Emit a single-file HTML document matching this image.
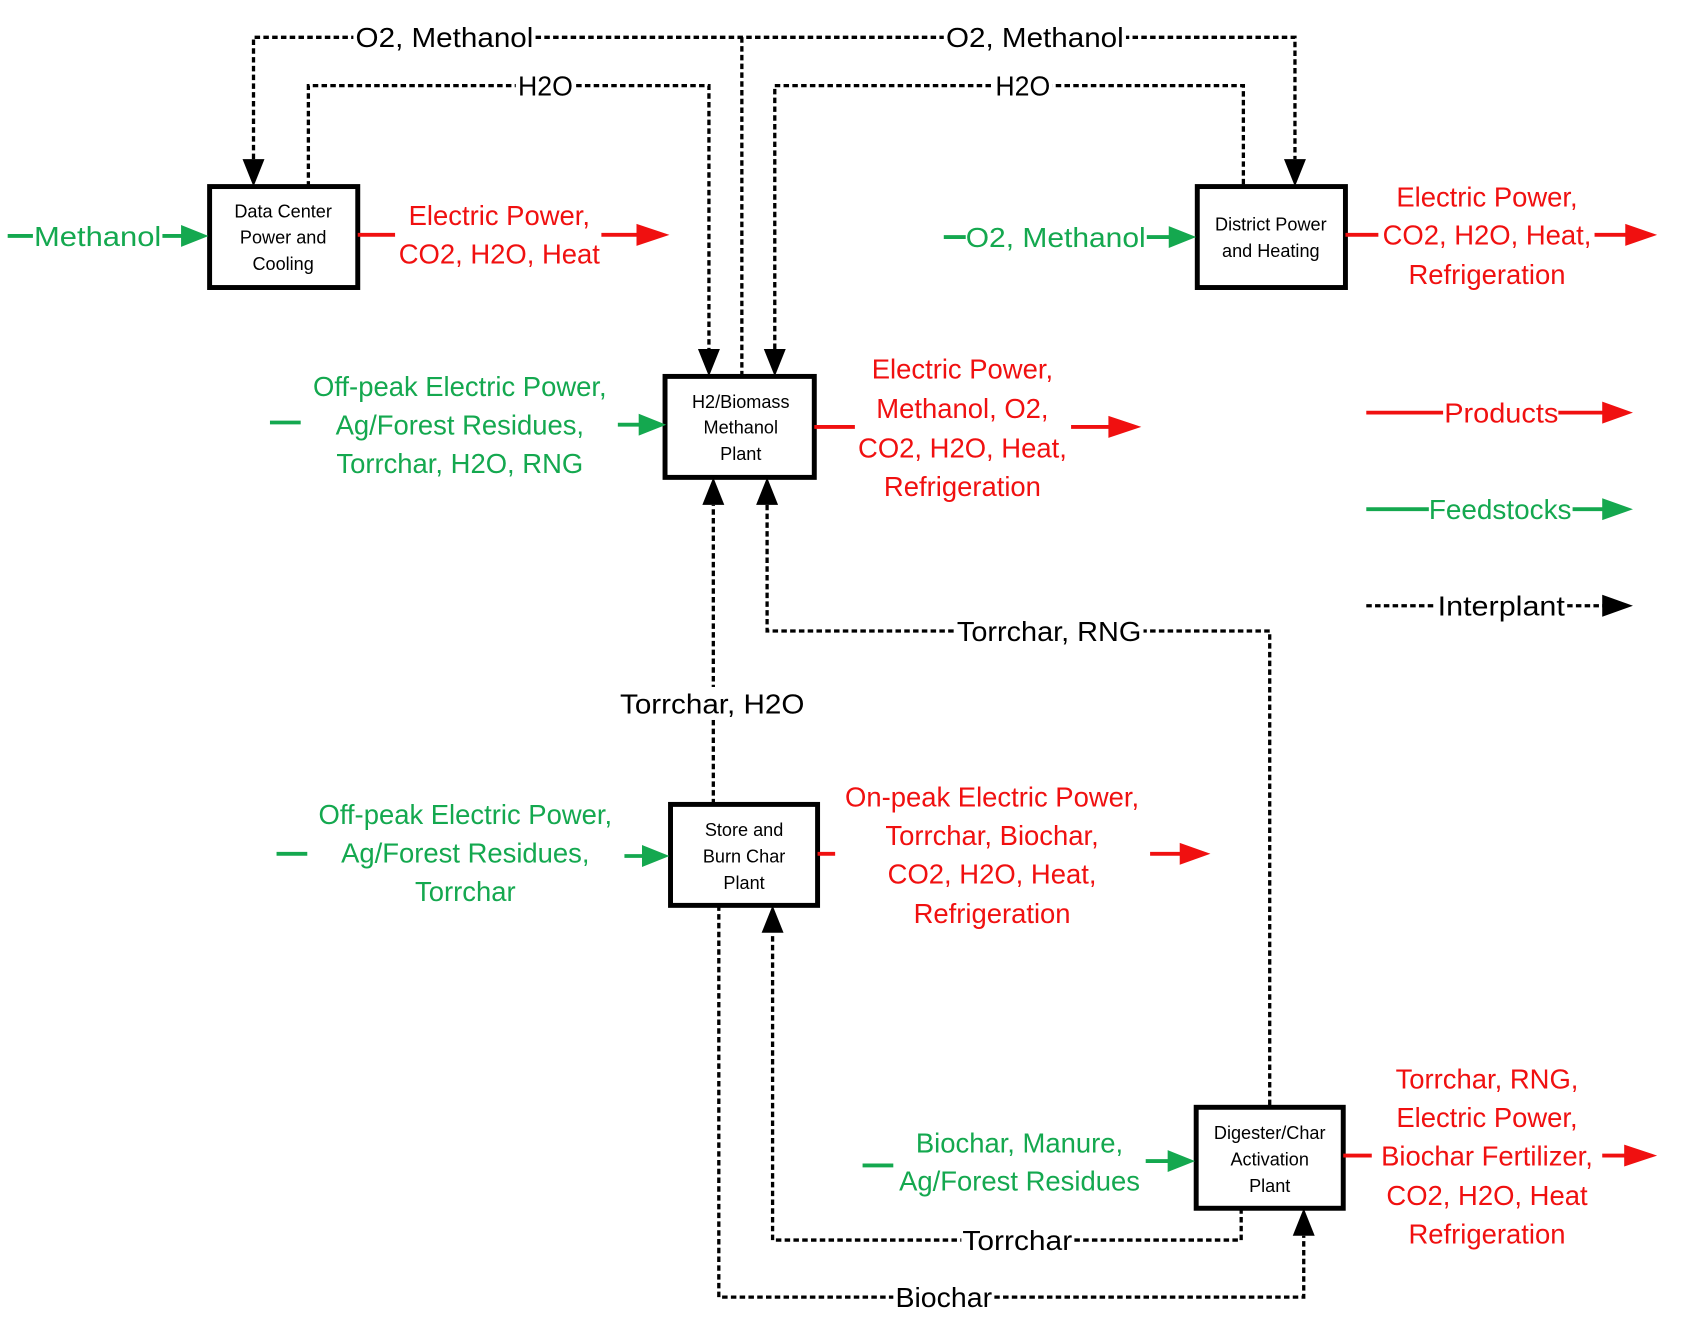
<!DOCTYPE html>
<html><head><meta charset="utf-8"><style>
html,body{margin:0;padding:0;background:#fff;}
svg{display:block;}
text{font-family:"Liberation Sans",sans-serif;}
</style></head><body>
<svg width="1701" height="1318" viewBox="0 0 1550 1201" preserveAspectRatio="none" xmlns="http://www.w3.org/2000/svg">
<g fill="none" stroke="#000" stroke-width="3" stroke-dasharray="5 3">
<polyline points="231,145 231,34 1180,34 1180,145"/>
<line x1="676" y1="34" x2="676" y2="343"/>
<polyline points="281,170 281,78 646,78 646,318"/>
<polyline points="706,318 706,78 1133,78 1133,170"/>
<line x1="650" y1="733" x2="650" y2="460"/>
<polyline points="699,460 699,575 1157,575 1157,1009"/>
<polyline points="1131,1101 1131,1130 704,1130 704,850"/>
<polyline points="655,825 655,1182 1188,1182 1188,1126"/>
<line x1="1245" y1="552" x2="1308" y2="552"/>
<line x1="1428" y1="552" x2="1462" y2="552"/>
</g>
<g fill="#000">
<path d="M221,145 L241,145 L231,170z"/>
<path d="M1170,145 L1190,145 L1180,170z"/>
<path d="M636,318 L656,318 L646,343z"/>
<path d="M696,318 L716,318 L706,343z"/>
<path d="M640,460 L660,460 L650,435z"/>
<path d="M689,460 L709,460 L699,435z"/>
<path d="M694,850 L714,850 L704,825z"/>
<path d="M1178,1126 L1198,1126 L1188,1101z"/>
<path d="M1460,542 L1488,552 L1460,562z"/>
</g>
<g fill="#fff" stroke="#000" stroke-width="4.5">
<rect x="191" y="170" width="135" height="92"/>
<rect x="1091" y="170" width="135" height="92"/>
<rect x="606" y="343" width="136" height="92"/>
<rect x="611" y="733" width="134" height="92"/>
<rect x="1090" y="1009" width="134" height="92"/>
</g>
<g font-size="16.5" fill="#000" text-anchor="middle">
<text x="258" y="198">Data Center</text><text x="258" y="222">Power and</text><text x="258" y="246">Cooling</text>
<text x="1158" y="210">District Power</text><text x="1158" y="234">and Heating</text>
<text x="675" y="372">H2/Biomass</text><text x="675" y="395">Methanol</text><text x="675" y="419">Plant</text>
<text x="678" y="762">Store and</text><text x="678" y="786">Burn Char</text><text x="678" y="810">Plant</text>
<text x="1157" y="1038">Digester/Char</text><text x="1157" y="1062">Activation</text><text x="1157" y="1086">Plant</text>
</g>
<g font-size="25" fill="#000" text-anchor="middle">
<rect x="322" y="20" width="166" height="28" fill="#fff"/><text x="405" y="43" textLength="162" lengthAdjust="spacingAndGlyphs">O2, Methanol</text>
<rect x="860" y="20" width="166" height="28" fill="#fff"/><text x="943" y="43" textLength="162" lengthAdjust="spacingAndGlyphs">O2, Methanol</text>
<rect x="470" y="64" width="54" height="28" fill="#fff"/><text x="497" y="87" textLength="50" lengthAdjust="spacingAndGlyphs">H2O</text>
<rect x="905" y="64" width="54" height="28" fill="#fff"/><text x="932" y="87" textLength="50" lengthAdjust="spacingAndGlyphs">H2O</text>
<rect x="563" y="626" width="172" height="30" fill="#fff"/><text x="649" y="650" textLength="168" lengthAdjust="spacingAndGlyphs">Torrchar, H2O</text>
<rect x="870" y="561" width="172" height="28" fill="#fff"/><text x="956" y="584" textLength="168" lengthAdjust="spacingAndGlyphs">Torrchar, RNG</text>
<rect x="876" y="1116" width="102" height="28" fill="#fff"/><text x="927" y="1139" textLength="100" lengthAdjust="spacingAndGlyphs">Torrchar</text>
<rect x="814" y="1168" width="92" height="28" fill="#fff"/><text x="860" y="1191" textLength="88" lengthAdjust="spacingAndGlyphs">Biochar</text>
<rect x="1308" y="538" width="120" height="28" fill="#fff"/><text x="1368" y="561" textLength="116" lengthAdjust="spacingAndGlyphs">Interplant</text>
</g>
<g stroke="#14a84f" stroke-width="3.5" fill="none">
<line x1="7" y1="215" x2="30" y2="215"/><line x1="148" y1="215" x2="168" y2="215"/>
<line x1="860" y1="216" x2="880" y2="216"/><line x1="1045" y1="216" x2="1068" y2="216"/>
<line x1="246" y1="385" x2="274" y2="385"/><line x1="563" y1="387" x2="585" y2="387"/>
<line x1="252" y1="778" x2="280" y2="778"/><line x1="569" y1="780" x2="588" y2="780"/>
<line x1="786" y1="1062" x2="814" y2="1062"/><line x1="1044" y1="1058" x2="1067" y2="1058"/>
<line x1="1245" y1="464" x2="1302" y2="464"/><line x1="1433" y1="464" x2="1462" y2="464"/>
</g>
<g fill="#14a84f">
<path d="M165,205 L190,215 L165,225z"/>
<path d="M1065,206 L1090,216 L1065,226z"/>
<path d="M582,377 L607,387 L582,397z"/>
<path d="M585,770 L610,780 L585,790z"/>
<path d="M1064,1048 L1089,1058 L1064,1068z"/>
<path d="M1460,454 L1488,464 L1460,474z"/>
</g>
<g font-size="25" fill="#14a84f" text-anchor="middle">
<text x="89" y="224" textLength="116" lengthAdjust="spacingAndGlyphs">Methanol</text>
<text x="962" y="225" textLength="164" lengthAdjust="spacingAndGlyphs">O2, Methanol</text>
<text x="419" y="361">Off-peak Electric Power,</text><text x="419" y="396">Ag/Forest Residues,</text><text x="419" y="431">Torrchar, H2O, RNG</text>
<text x="424" y="751">Off-peak Electric Power,</text><text x="424" y="786">Ag/Forest Residues,</text><text x="424" y="821">Torrchar</text>
<text x="929" y="1050">Biochar, Manure,</text><text x="929" y="1085">Ag/Forest Residues</text>
<text x="1367" y="473" textLength="130" lengthAdjust="spacingAndGlyphs">Feedstocks</text>
</g>
<g stroke="#f01010" stroke-width="3.5" fill="none">
<line x1="326" y1="214" x2="360" y2="214"/><line x1="548" y1="214" x2="583" y2="214"/>
<line x1="1226" y1="214" x2="1256" y2="214"/><line x1="1453" y1="214" x2="1484" y2="214"/>
<line x1="742" y1="389" x2="779" y2="389"/><line x1="976" y1="389" x2="1013" y2="389"/>
<line x1="745" y1="778" x2="761" y2="778"/><line x1="1048" y1="778" x2="1078" y2="778"/>
<line x1="1224" y1="1053" x2="1250" y2="1053"/><line x1="1460" y1="1053" x2="1483" y2="1053"/>
<line x1="1245" y1="376" x2="1315" y2="376"/><line x1="1420" y1="376" x2="1462" y2="376"/>
</g>
<g fill="#f01010">
<path d="M580,204 L610,214 L580,224z"/>
<path d="M1481,204 L1510,214 L1481,224z"/>
<path d="M1010,379 L1040,389 L1010,399z"/>
<path d="M1075,768 L1103,778 L1075,788z"/>
<path d="M1480,1043 L1510,1053 L1480,1063z"/>
<path d="M1460,366 L1488,376 L1460,386z"/>
</g>
<g font-size="25" fill="#f01010" text-anchor="middle">
<text x="455" y="205">Electric Power,</text><text x="455" y="240">CO2, H2O, Heat</text>
<text x="1355" y="188">Electric Power,</text><text x="1355" y="223">CO2, H2O, Heat,</text><text x="1355" y="259">Refrigeration</text>
<text x="877" y="345">Electric Power,</text><text x="877" y="381">Methanol, O2,</text><text x="877" y="417">CO2, H2O, Heat,</text><text x="877" y="452">Refrigeration</text>
<text x="904" y="735">On-peak Electric Power,</text><text x="904" y="770">Torrchar, Biochar,</text><text x="904" y="805">CO2, H2O, Heat,</text><text x="904" y="841">Refrigeration</text>
<text x="1355" y="992">Torrchar, RNG,</text><text x="1355" y="1027">Electric Power,</text><text x="1355" y="1062">Biochar Fertilizer,</text><text x="1355" y="1098">CO2, H2O, Heat</text><text x="1355" y="1133">Refrigeration</text>
<text x="1368" y="385" textLength="104" lengthAdjust="spacingAndGlyphs">Products</text>
</g>
</svg>
</body></html>
